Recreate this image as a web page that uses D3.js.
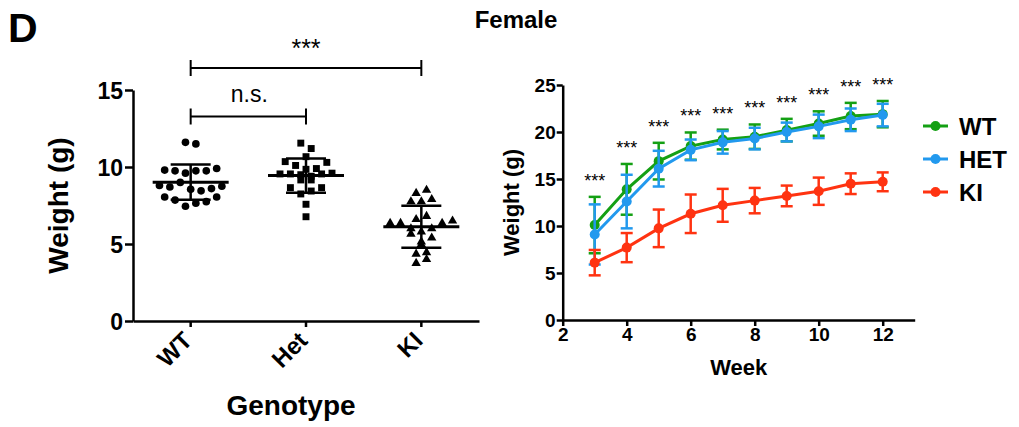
<!DOCTYPE html>
<html>
<head>
<meta charset="utf-8">
<script src="https://cdn.jsdelivr.net/npm/d3@7"></script>
<style>
  html, body { margin: 0; padding: 0; background: #fff; }
  svg { display: block; font-family: "Liberation Sans", Arial, Helvetica, sans-serif; }
</style>
</head>
<body>
<svg id="chart" width="1019" height="427"></svg>
<script>
// ---------- Data: left panel (individual weights, grouped in rows of similar value) ----------
const genotypes = ["WT", "Het", "KI"];
const wtRows  = [[11.6, 11.5], [9.8, 9.75, 9.6, 9.75, 9.75, 9.9], [8.8, 8.7, 9.0, 8.55, 8.45, 8.6, 8.75], [8.05, 7.85, 7.45, 7.65, 7.75, 8.05]];
const hetRows = [[11.55, 11.2], [10.67], [10.35, 10.1, 9.85, 9.9, 10.3], [9.55, 9.55, 9.5, 9.4, 9.55, 9.6], [9.16, 9.16], [8.66, 8.25, 8.44, 8.66], [7.58], [6.77]];
const kiRows  = [[8.3, 8.5], [7.75, 7.75, 7.9], [6.6, 6.8], [6.35, 6.35, 6.0, 5.8, 6.0, 6.35, 6.5], [5.65, 5.15, 5.4], [4.98], [4.35, 4.45], [3.75, 4.0]];
const leftTicks = [0, 5, 10, 15];
const comparisons = [
  { from: "WT", to: "KI", label: "***", level: 0 },
  { from: "WT", to: "Het", label: "n.s.", level: 1 }
];

// ---------- Data: right panel (weekly mean ± SD) ----------
const weeks   = [3, 4, 5, 6, 7, 8, 9, 10, 11, 12];
const wtMean  = [10.1, 13.9, 16.9, 18.5, 19.2, 19.5, 20.2, 20.9, 21.7, 21.9];
const wtSD    = [3.0, 2.7, 1.95, 1.45, 1.05, 1.3, 1.2, 1.3, 1.4, 1.4];
const hetMean = [9.1, 12.6, 16.1, 18.1, 18.9, 19.3, 20.0, 20.6, 21.3, 21.8];
const hetSD   = [3.2, 2.85, 1.9, 1.1, 1.2, 1.15, 1.0, 1.25, 1.2, 1.2];
const kiMean  = [6.1, 7.7, 9.75, 11.3, 12.2, 12.7, 13.2, 13.7, 14.5, 14.7];
const kiSD    = [1.35, 1.55, 2.0, 2.05, 1.75, 1.35, 1.1, 1.45, 1.1, 1.0];
const weekSig = ["***", "***", "***", "***", "***", "***", "***", "***", "***", "***"];
const seriesNames = ["WT", "HET", "KI"];
const weekTicks = [2, 4, 6, 8, 10, 12];
const rightTicks = [0, 5, 10, 15, 20, 25];

// ---------- Setup ----------
const svg = d3.select("#chart");
const FONT = '"Liberation Sans", Arial, Helvetica, sans-serif';
const colors = { WT: "#14a014", HET: "#2299ee", KI: "#ff3311" };

svg.append("text").attr("x", 8).attr("y", 42).attr("font-size", 41).attr("font-weight", "bold").text("D");
svg.append("text").attr("x", 516).attr("y", 28).attr("text-anchor", "middle")
  .attr("font-size", 24).attr("font-weight", "bold").text("Female");

// ---------- Left panel ----------
const L = { left: 133, right: 479, top: 90, bottom: 321 };
const xL = d3.scaleBand().domain(genotypes).range([L.left, L.right]).padding(0);
const yL = d3.scaleLinear().domain([0, 15]).range([L.bottom, L.top]);
const gL = svg.append("g");

const yAxisL = gL.append("g").attr("transform", `translate(${L.left},0)`)
  .call(d3.axisLeft(yL).tickValues(leftTicks).tickSize(8).tickSizeOuter(0).tickPadding(2));
const xAxisL = gL.append("g").attr("transform", `translate(0,${L.bottom})`)
  .call(d3.axisBottom(xL).tickSize(6).tickSizeOuter(0));
[yAxisL, xAxisL].forEach(a => {
  a.selectAll("path,line").attr("stroke", "#000").attr("stroke-width", 2.5);
  a.selectAll("text").attr("fill", "#000").attr("font-family", FONT).attr("font-weight", "bold");
});
yAxisL.selectAll("text").attr("font-size", 23).attr("dy", "0.36em");
xAxisL.selectAll("text").attr("font-size", 24)
  .attr("text-anchor", "end")
  .attr("dy", null).attr("y", 0)
  .attr("transform", "translate(3,21) rotate(-45)");

gL.append("text").attr("transform", `translate(68,${(L.top + L.bottom) / 2}) rotate(-90)`)
  .attr("text-anchor", "middle").attr("font-size", 28).attr("font-weight", "bold").text("Weight (g)");
gL.append("text").attr("x", 291).attr("y", 415).attr("text-anchor", "middle")
  .attr("font-size", 28).attr("font-weight", "bold").text("Genotype");

const groups = [
  { name: "WT", rows: wtRows, shape: d3.symbolCircle, size: 46 },
  { name: "Het", rows: hetRows, shape: d3.symbolSquare, size: 48 },
  { name: "KI", rows: kiRows, shape: d3.symbolTriangle, size: 38 }
];
const spacing = 10.4;
groups.forEach(g => {
  const cx = xL(g.name) + xL.bandwidth() / 2;
  const pts = [];
  g.rows.forEach(row => row.forEach((v, i) => pts.push({ v, dx: (i - (row.length - 1) / 2) * spacing })));
  gL.append("g").selectAll("path").data(pts).join("path")
    .attr("d", d3.symbol().type(g.shape).size(g.size))
    .attr("transform", d => `translate(${cx + d.dx},${yL(d.v)})`)
    .attr("fill", "#000");
  const vals = pts.map(p => p.v);
  const m = d3.mean(vals), sd = d3.deviation(vals);
  const eg = gL.append("g").attr("stroke", "#000").attr("fill", "none");
  eg.append("line").attr("x1", cx).attr("x2", cx).attr("y1", yL(m + sd)).attr("y2", yL(m - sd)).attr("stroke-width", 2.5);
  eg.append("line").attr("x1", cx - 38).attr("x2", cx + 38).attr("y1", yL(m)).attr("y2", yL(m)).attr("stroke-width", 3);
  [m + sd, m - sd].forEach(v => eg.append("line").attr("x1", cx - 20).attr("x2", cx + 20)
    .attr("y1", yL(v)).attr("y2", yL(v)).attr("stroke-width", 2.5));
});

// significance brackets
const bracketY = [68, 116.5];
comparisons.forEach(c => {
  const x1 = xL(c.from) + xL.bandwidth() / 2, x2 = xL(c.to) + xL.bandwidth() / 2;
  const y = bracketY[c.level];
  const bg = gL.append("g").attr("stroke", "#000").attr("stroke-width", 2);
  bg.append("line").attr("x1", x1).attr("x2", x2).attr("y1", y).attr("y2", y);
  bg.append("line").attr("x1", x1).attr("x2", x1).attr("y1", y - 8).attr("y2", y + 8);
  bg.append("line").attr("x1", x2).attr("x2", x2).attr("y1", y - 8).attr("y2", y + 8);
  const isStar = c.label.indexOf("*") >= 0;
  gL.append("text").attr("x", (x1 + x2) / 2 + (isStar ? 0 : 1)).attr("y", isStar ? y - 11 : y - 15)
    .attr("text-anchor", "middle").attr("font-size", isStar ? 25 : 23).text(c.label);
});

// ---------- Right panel ----------
const R = { left: 562.7, right: 914.7, top: 85, bottom: 320 };
const xR = d3.scaleLinear().domain([2, 13]).range([R.left, R.right]);
const yR = d3.scaleLinear().domain([0, 25]).range([R.bottom, R.top]);
const gR = svg.append("g");

const yAxisR = gR.append("g").attr("transform", `translate(${R.left},0)`)
  .call(d3.axisLeft(yR).tickValues(rightTicks).tickSize(6).tickSizeOuter(0).tickPadding(1));
const xAxisR = gR.append("g").attr("transform", `translate(0,${R.bottom})`)
  .call(d3.axisBottom(xR).tickValues(weekTicks).tickSize(6).tickSizeOuter(0).tickPadding(2));
[yAxisR, xAxisR].forEach(a => {
  a.selectAll("path,line").attr("stroke", "#000").attr("stroke-width", 2.5);
  a.selectAll("text").attr("fill", "#000").attr("font-family", FONT).attr("font-weight", "bold").attr("font-size", 19);
});
yAxisR.selectAll("text").attr("dy", "0.36em");

gR.append("text").attr("transform", `translate(519,${(R.top + R.bottom) / 2}) rotate(-90)`)
  .attr("text-anchor", "middle").attr("font-size", 22).attr("font-weight", "bold").text("Weight (g)");
gR.append("text").attr("x", (R.left + R.right) / 2).attr("y", 375).attr("text-anchor", "middle")
  .attr("font-size", 22).attr("font-weight", "bold").text("Week");

const series = [
  { name: "WT", mean: wtMean, sd: wtSD },
  { name: "HET", mean: hetMean, sd: hetSD },
  { name: "KI", mean: kiMean, sd: kiSD }
];
const line = d3.line().x(d => xR(d.w)).y(d => yR(d.m));
series.forEach(s => {
  const data = weeks.map((w, i) => ({ w, m: s.mean[i], sd: s.sd[i] }));
  const sg = gR.append("g");
  const col = colors[s.name];
  sg.selectAll("g.eb").data(data).join("g").attr("class", "eb").each(function (d) {
    const g = d3.select(this).attr("stroke", col).attr("stroke-width", 2.5);
    const x = xR(d.w);
    g.append("line").attr("x1", x).attr("x2", x).attr("y1", yR(d.m + d.sd)).attr("y2", yR(d.m - d.sd));
    [d.m + d.sd, d.m - d.sd].forEach(v => g.append("line").attr("x1", x - 6).attr("x2", x + 6).attr("y1", yR(v)).attr("y2", yR(v)));
  });
  sg.append("path").datum(data).attr("d", line).attr("fill", "none").attr("stroke", col).attr("stroke-width", 3);
  sg.selectAll("circle").data(data).join("circle")
    .attr("cx", d => xR(d.w)).attr("cy", d => yR(d.m)).attr("r", 5).attr("fill", col);
});

// significance stars above the highest error bar
weeks.forEach((w, i) => {
  const top = d3.max(series, s => s.mean[i] + s.sd[i]);
  gR.append("text").attr("x", xR(w)).attr("y", yR(top) - 10).attr("text-anchor", "middle")
    .attr("font-size", 18).text(weekSig[i]);
});

// legend
const legY = [126, 159, 192];
seriesNames.forEach((n, i) => {
  const lg = gR.append("g").attr("transform", `translate(923,${legY[i]})`);
  lg.append("line").attr("x1", 0).attr("x2", 25).attr("y1", 0).attr("y2", 0).attr("stroke", colors[n]).attr("stroke-width", 3);
  lg.append("circle").attr("cx", 12.5).attr("cy", 0).attr("r", 5).attr("fill", colors[n]);
  lg.append("text").attr("x", 36).attr("y", 9).attr("font-size", 24).attr("font-weight", "bold").text(n);
});
</script>
</body>
</html>
